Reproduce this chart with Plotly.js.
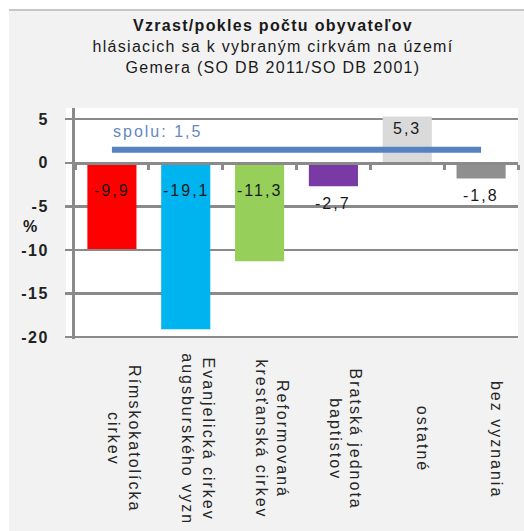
<!DOCTYPE html>
<html><head><meta charset="utf-8">
<script src="https://cdn.plot.ly/plotly-3.0.1.min.js"></script>
<style>
html,body{margin:0;padding:0;background:#fff;}
.annotation-text{letter-spacing:2px;}
.gtitle{letter-spacing:1.3px;}
.ytick text{letter-spacing:1.5px;}
</style></head><body><div id="chart" style="width:524px;height:531px"></div>
<script>
// ---- data ----
const categories = ['Rímskokatolícka cirkev', 'Evanjelická cirkev augsburského vyzn', 'Reformovaná kresťanská cirkev', 'Bratská jednota baptistov', 'ostatné', 'bez vyznania'];
const categoryLabelLines = [['Rímskokatolícka', 'cirkev'], ['Evanjelická cirkev', 'augsburského vyzn'], ['Reformovaná', 'kresťanská cirkev'], ['Bratská jednota', 'baptistov'], ['ostatné'], ['bez vyznania']];
const changePct = [-9.9, -19.1, -11.3, -2.7, 5.3, -1.8];
const totalPct = 1.5;
const totalLabel = 'spolu: ';
const barColors = ['#ff0000', '#00b4ef', '#96d05a', '#7a3aa6', '#dadada', '#8f8f8f'];
const yTickVals = [5, 0, -5, -10, -15, -20];
const yTickText = ['5', '0', '-5', '-10', '-15', '-20'];
const titleLines = ['Vzrast/pokles počtu obyvateľov', 'hlásiacich sa k vybraným cirkvám na území', 'Gemera (SO DB 2011/SO DB 2001)'];
const yUnit = '%';

// ---- geometry ----
const W = 524, H = 531;
const L = 75, R = 6, T = 108, B = 192;
const pw = W - L - R, ph = H - T - B;
const yRange = [-20.21, 6.28];
const px2px = x => (x - L) / pw;          // pixel x -> paper x
const py2py = y => (H - B - y) / ph;       // pixel y -> paper y
const fmt = v => v.toFixed(1).replace('.', ',');
const FONT = 'Liberation Sans, Arial, sans-serif';
const TXT = '#1a1a1a';

const traces = [
  {
    type: 'bar', x: categories, y: changePct,
    marker: {color: barColors, line: {width: 0}},
    hoverinfo: 'skip', showlegend: false
  },
  {
    type: 'scatter', mode: 'lines',
    x: [categories[0], categories[categories.length - 1]], y: [totalPct, totalPct],
    line: {color: '#5583c2', width: 6},
    hoverinfo: 'skip', showlegend: false
  }
];

const annotations = [];
// data labels
changePct.forEach((v, i) => {
  let a = {x: categories[i], xref: 'x', yref: 'y', text: fmt(v), showarrow: false,
           font: {family: FONT, size: 16, color: TXT}, xanchor: 'center', yanchor: 'top'};
  if (v <= -5) { a.y = 0; a.yshift = -17; }
  else if (v < 0) { a.y = v; a.yshift = -7; }
  else { a.y = v; a.yshift = -1; }
  annotations.push(a);
});
// category labels (rotated)
categoryLabelLines.forEach((lines, i) => {
  annotations.push({
    x: categories[i], xref: 'x', y: py2py(439), yref: 'paper',
    text: lines.join('<br>'), textangle: 90, showarrow: false,
    xshift: lines.length > 1 ? 12 : 16,
    xanchor: 'center', yanchor: 'middle',
    font: {family: FONT, size: 16, color: '#262626'}
  });
});
// total label
annotations.push({
  x: categories[0], xref: 'x', y: totalPct, yref: 'y', xanchor: 'left', yanchor: 'middle',
  xshift: -1, yshift: 18, showarrow: false,
  text: totalLabel + fmt(totalPct), font: {family: FONT, size: 16, color: '#6488bf'}
});
// unit label
annotations.push({
  x: px2px(31), xref: 'paper', y: py2py(226), yref: 'paper', showarrow: false,
  text: '<b>' + yUnit + '</b>', font: {family: FONT, size: 16, color: TXT},
  xanchor: 'center', yanchor: 'middle'
});

const shapes = [
  // outer grey panel
  {type: 'rect', xref: 'paper', yref: 'paper', layer: 'below',
   x0: px2px(9), x1: px2px(W + 2), y0: py2py(H + 2), y1: py2py(10),
   fillcolor: '#f2f2f2', line: {width: 0}},
  {type: 'line', xref: 'paper', yref: 'paper', layer: 'below',
   x0: px2px(9), x1: px2px(W + 2), y0: py2py(10), y1: py2py(10),
   line: {color: '#c6c6c6', width: 2}},
  // white plot area
  {type: 'rect', xref: 'paper', yref: 'paper', layer: 'below',
   x0: px2px(66), x1: 1, y0: py2py(337.5), y1: 1,
   fillcolor: '#ffffff', line: {width: 0}}
];

const layout = {
  width: W, height: H, autosize: false,
  margin: {l: L, r: R, t: T, b: B, pad: 0},
  paper_bgcolor: '#ffffff', plot_bgcolor: 'rgba(0,0,0,0)',
  font: {family: FONT, size: 16, color: TXT},
  title: {
    text: '<b>' + titleLines[0] + '</b><br>' + titleLines.slice(1).join('<br>'),
    xref: 'container', yref: 'container', x: 273 / W, xanchor: 'center',
    y: 1 - 31 / H, yanchor: 'top',
    font: {family: FONT, size: 16, color: TXT}
  },
  bargap: 0.335,
  xaxis: {
    type: 'category', range: [-0.5, categories.length - 0.5], fixedrange: true,
    anchor: 'free', position: (0 - yRange[0]) / (yRange[1] - yRange[0]),
    showline: true, linecolor: '#8a8a8a', linewidth: 3,
    ticks: 'outside', tickson: 'boundaries', ticklen: 5, tickwidth: 3, tickcolor: '#8a8a8a',
    showticklabels: false, showgrid: false, zeroline: false
  },
  yaxis: {
    range: yRange, fixedrange: true,
    tickvals: yTickVals, ticktext: yTickText,
    showline: true, linecolor: '#8a8a8a', linewidth: 3,
    ticks: 'outside', ticklen: 7, tickwidth: 2.5, tickcolor: '#8a8a8a',
    showgrid: true, gridcolor: '#8a8a8a', gridwidth: 2.5, zeroline: false,
    ticklabelstandoff: 13,
    tickfont: {family: FONT, size: 16, color: '#222222', weight: 'bold'}
  },
  showlegend: false,
  annotations: annotations,
  shapes: shapes
};

Plotly.newPlot('chart', traces, layout, {displayModeBar: false, staticPlot: true});
</script></body></html>
